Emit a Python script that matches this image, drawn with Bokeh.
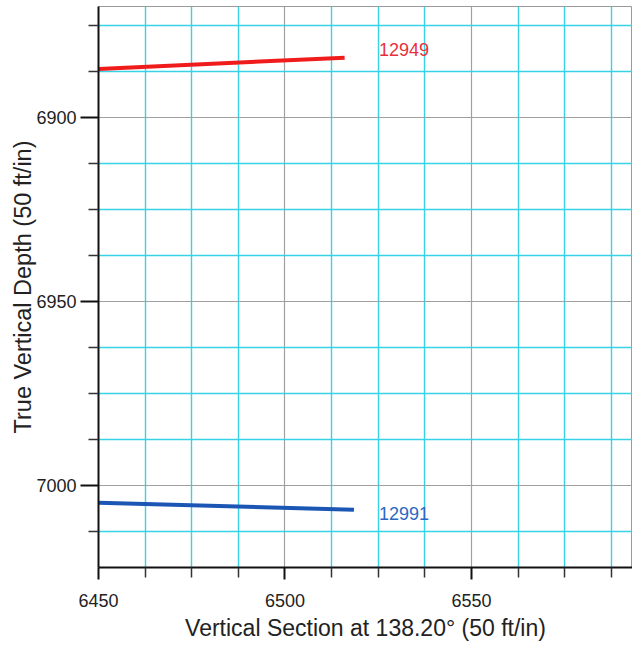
from bokeh.plotting import figure
from bokeh.models import Range1d, FixedTicker, ColumnDataSource
from bokeh.core.properties import value
from bokeh.embed import file_html
from bokeh.resources import INLINE

# ---- data ----
well_names = ["12949", "12991"]
well_colors = ["#f01c1c", "#1b56b5"]
label_colors = ["#e8303c", "#2b68c2"]
red_vs = [6450.0, 6516.0]
red_tvd = [6886.9, 6883.8]
blue_vs = [6450.0, 6518.5]
blue_tvd = [7004.7, 7006.6]
label_vs = [6525.2, 6525.2]
label_tvd = [6881.7, 7007.7]

x_major = [6450, 6500, 6550]
x_minor = [6462.5, 6475, 6487.5, 6512.5, 6525, 6537.5, 6562.5, 6575, 6587.5]
y_major = [6900, 6950, 7000]
y_minor = [6875, 6887.5, 6912.5, 6925, 6937.5, 6962.5, 6975, 6987.5, 7012.5]

FONT = "Liberation Sans"

p = figure(width=632, height=647, output_backend="svg", toolbar_location=None,
           x_range=Range1d(6450, 6593.2), y_range=Range1d(7022.3, 6869.9),
           min_border_left=98, min_border_bottom=80, min_border_top=6, min_border_right=0)

p.xaxis.ticker = FixedTicker(ticks=x_major, minor_ticks=x_minor)
p.yaxis.ticker = FixedTicker(ticks=y_major, minor_ticks=y_minor)

p.xgrid.grid_line_color = "#a0a0a0"
p.ygrid.grid_line_color = "#a0a0a0"
p.xgrid.minor_grid_line_color = "#38d2e6"
p.ygrid.minor_grid_line_color = "#38d2e6"
p.xgrid.grid_line_width = 1.2
p.ygrid.grid_line_width = 1.2
p.xgrid.minor_grid_line_width = 1.4
p.ygrid.minor_grid_line_width = 1.4

p.outline_line_color = "#9a9a9a"
p.outline_line_width = 1

for ax in (p.xaxis[0], p.yaxis[0]):
    ax.axis_line_color = "#111111"
    ax.axis_line_width = 2
    ax.major_tick_line_color = "#111111"
    ax.major_tick_line_width = 2
    ax.minor_tick_line_color = "#333333"
    ax.minor_tick_line_width = 1.5
    ax.major_tick_in = 0
    ax.minor_tick_in = 0
    ax.major_label_text_font = FONT
    ax.major_label_text_font_size = "18px"
    ax.major_label_text_color = "#222222"
    ax.axis_label_text_font = FONT
    ax.axis_label_text_font_style = "normal"
    ax.axis_label_text_color = "#222222"

p.xaxis.axis_label_text_font_size = "23px"
p.yaxis.axis_label_text_font_size = "23.5px"
p.xaxis.axis_label = "Vertical Section at 138.20° (50 ft/in)"
p.yaxis.axis_label = "True Vertical Depth (50 ft/in)"
p.xaxis.major_tick_out = 12
p.xaxis.minor_tick_out = 10
p.yaxis.major_tick_out = 18
p.yaxis.minor_tick_out = 10
p.xaxis.major_label_standoff = 14
p.yaxis.major_label_standoff = 4
p.xaxis.axis_label_standoff = 5
p.yaxis.axis_label_standoff = -3

p.line(red_vs, red_tvd, line_color=well_colors[0], line_width=4)
p.line(blue_vs, blue_tvd, line_color=well_colors[1], line_width=4)

src = ColumnDataSource(dict(x=label_vs, y=label_tvd, t=well_names, c=label_colors))
p.text(x="x", y="y", text="t", text_color="c", source=src,
       text_font=value(FONT), text_font_size="18px",
       text_align="left", text_baseline="middle")

open("out.html", "w").write(file_html(p, INLINE))
